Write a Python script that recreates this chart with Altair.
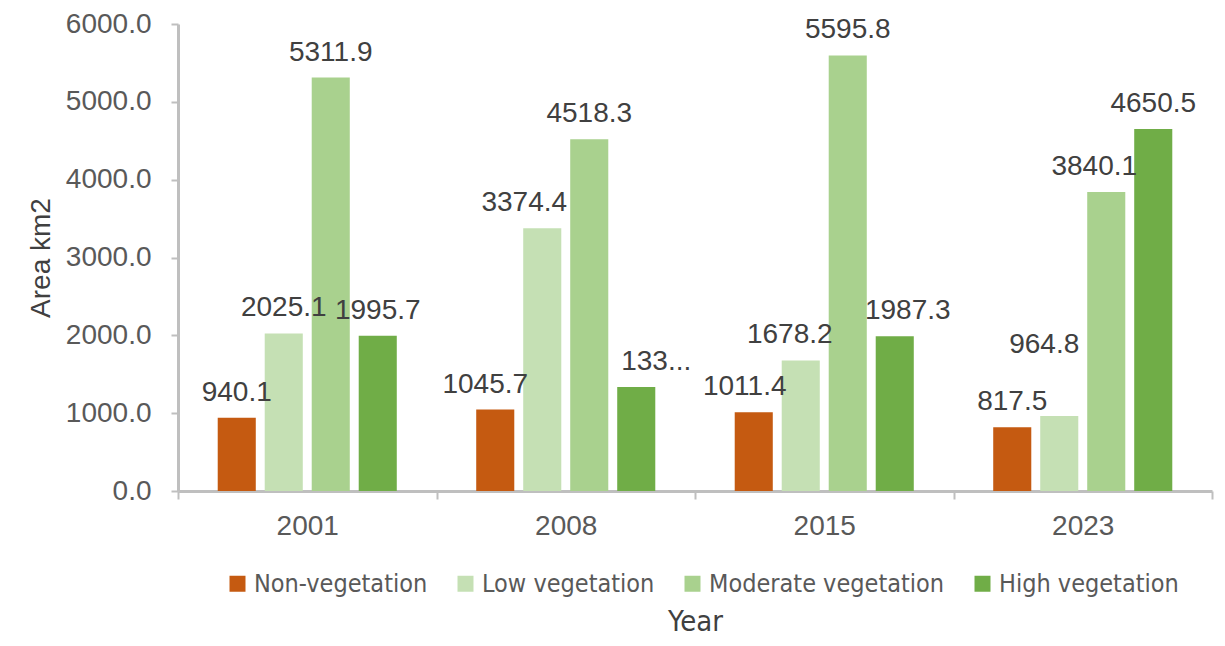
import altair as alt
import pandas as pd

years = ["2001", "2008", "2015", "2023"]
classes = ["Non-vegetation", "Low vegetation", "Moderate vegetation", "High vegetation"]
colors = ["#C55A11", "#C5E0B4", "#A9D18E", "#70AD47"]
non_veg = [940.1, 1045.7, 1011.4, 817.5]
low_veg = [2025.1, 3374.4, 1678.2, 964.8]
mod_veg = [5311.9, 4518.3, 5595.8, 3840.1]
high_veg = [1995.7, 1336.0, 1987.3, 4650.5]
truncated = {("2008", "High vegetation"): "133..."}
# label nudges (dx, extra dy in px) that keep neighbouring labels apart, as in the original
label_nudge = {
    ("2008", "Non-vegetation"): (-10, 0), ("2008", "Low vegetation"): (-18, 0),
    ("2008", "High vegetation"): (20, 0),
    ("2015", "Non-vegetation"): (-9, 0), ("2015", "Low vegetation"): (-11, 0),
    ("2015", "High vegetation"): (13, 0),
    ("2023", "Low vegetation"): (-15, -46), ("2023", "Moderate vegetation"): (-12, 0),
}

rows = []
for cls, vals in zip(classes, [non_veg, low_veg, mod_veg, high_veg]):
    for y, v in zip(years, vals):
        ndx, ndy = label_nudge.get((y, cls), (0, 0))
        rows.append({"Year": y, "Class": cls, "Area": v,
                     "Label": truncated.get((y, cls), f"{v:.1f}"),
                     "NDX": ndx, "NDY": ndy})
df = pd.DataFrame(rows)

FONT = "Liberation Sans"
NARROW = "DejaVu Sans Condensed"
GRID = "#BFBFBF"

x_enc = alt.X("Year:N", sort=years,
              scale=alt.Scale(paddingInner=0, paddingOuter=0),
              axis=alt.Axis(title="Year", titleFont=NARROW, titleFontSize=29,
                            titleFontWeight="normal", titleColor="#404040",
                            titlePadding=67, labelAngle=0, labelFont=FONT,
                            labelFontSize=28, labelColor="#595959", labelPadding=13,
                            tickBand="extent", tickSize=8, tickColor=GRID,
                            tickWidth=2, domainColor=GRID, domainWidth=3))
xoff_enc = alt.XOffset("Class:N", sort=classes,
                       scale=alt.Scale(paddingInner=0.19, paddingOuter=0.845))
y_enc = alt.Y("Area:Q", scale=alt.Scale(domain=[0, 6000], nice=False),
              axis=alt.Axis(title="Area km2", values=[0, 1000, 2000, 3000, 4000, 5000, 6000],
                            format=".1f", grid=False, titleFont=FONT, titleFontSize=28,
                            titleFontWeight="normal", titleColor="#404040", titlePadding=10,
                            labelFont=FONT, labelFontSize=28, labelColor="#595959",
                            labelPadding=20, tickSize=7, tickColor=GRID, tickWidth=2,
                            domainColor=GRID, domainWidth=3))

base = alt.Chart(df).encode(x=x_enc, xOffset=xoff_enc, y=y_enc)

bars = base.mark_bar().encode(
    color=alt.Color("Class:N", sort=classes,
                    scale=alt.Scale(domain=classes, range=colors),
                    legend=alt.Legend(title=None, orient="none", direction="horizontal",
                                      legendX=47, legendY=547, symbolType="square",
                                      symbolSize=256, symbolStrokeWidth=0,
                                      labelFont=NARROW, labelFontSize=25,
                                      labelColor="#595959", columnPadding=25,
                                      labelOffset=4, labelLimit=400))
)

layers = [bars]
pairs = sorted({(r["NDX"], r["NDY"]) for r in rows})
for ndx, ndy in pairs:
    layers.append(
        base.transform_filter((alt.datum.NDX == ndx) & (alt.datum.NDY == ndy))
        .mark_text(font=FONT, fontSize=28, color="#404040", baseline="alphabetic",
                   dy=-17 + ndy, dx=ndx)
        .encode(text="Label:N")
    )

chart = alt.layer(*layers).properties(
    width=1034, height=467,
    autosize=alt.AutoSizeParams(type="none"),
    padding={"left": 170, "top": 16, "right": 5, "bottom": 146},
).configure(background="white").configure_view(stroke=None)

chart.save("out.html", embed_options={"renderer": "svg", "actions": False})
